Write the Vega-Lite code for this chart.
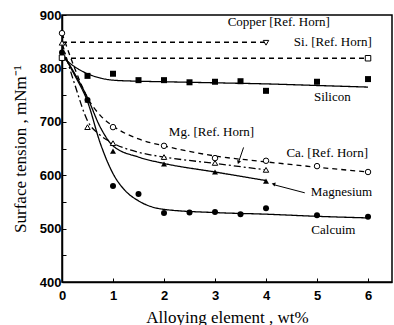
{
  "$schema": "https://vega.github.io/schema/vega-lite/v6.json",
  "width": 330,
  "height": 267,
  "autosize": "none",
  "padding": {"left": 62, "top": 15, "right": 2, "bottom": 43},
  "background": "white",
  "config": {
    "view": {"stroke": "black", "strokeWidth": 1.5},
    "text": {"font": "Liberation Serif"},
    "axis": {
      "domainColor": "black", "domainWidth": 1.5, "tickColor": "black",
      "labelFont": "Liberation Sans", "labelFontWeight": "bold", "labelFontSize": 13, "labelColor": "black",
      "titleFont": "Liberation Serif", "titleFontWeight": "normal", "titleFontSize": 17, "titleColor": "black",
      "grid": false, "tickSize": -4
    }
  },
  "resolve": {"scale": {"shape": "independent"}},
  "datasets": {
    "curves": [
      {"s": "Silicon", "x": 0, "y": 822}, {"s": "Silicon", "x": 0.25, "y": 803}, {"s": "Silicon", "x": 0.5, "y": 790}, {"s": "Silicon", "x": 0.75, "y": 782}, {"s": "Silicon", "x": 1, "y": 778}, {"s": "Silicon", "x": 1.5, "y": 776}, {"s": "Silicon", "x": 2, "y": 775}, {"s": "Silicon", "x": 3, "y": 773}, {"s": "Silicon", "x": 4, "y": 771}, {"s": "Silicon", "x": 5, "y": 768}, {"s": "Silicon", "x": 6, "y": 765},
      {"s": "Calcium", "x": 0, "y": 830}, {"s": "Calcium", "x": 0.25, "y": 787}, {"s": "Calcium", "x": 0.5, "y": 738}, {"s": "Calcium", "x": 0.75, "y": 660}, {"s": "Calcium", "x": 1, "y": 603}, {"s": "Calcium", "x": 1.25, "y": 570}, {"s": "Calcium", "x": 1.5, "y": 552}, {"s": "Calcium", "x": 2, "y": 536}, {"s": "Calcium", "x": 3, "y": 530}, {"s": "Calcium", "x": 4, "y": 527}, {"s": "Calcium", "x": 5, "y": 523}, {"s": "Calcium", "x": 6, "y": 520},
      {"s": "Magnesium", "x": 0, "y": 830}, {"s": "Magnesium", "x": 0.25, "y": 790}, {"s": "Magnesium", "x": 0.5, "y": 745}, {"s": "Magnesium", "x": 0.75, "y": 690}, {"s": "Magnesium", "x": 1, "y": 655}, {"s": "Magnesium", "x": 1.5, "y": 634}, {"s": "Magnesium", "x": 2, "y": 622}, {"s": "Magnesium", "x": 3, "y": 606}, {"s": "Magnesium", "x": 4, "y": 590},
      {"s": "MgRef", "x": 0, "y": 848}, {"s": "MgRef", "x": 0.25, "y": 770}, {"s": "MgRef", "x": 0.5, "y": 702}, {"s": "MgRef", "x": 0.75, "y": 675}, {"s": "MgRef", "x": 1, "y": 660}, {"s": "MgRef", "x": 1.5, "y": 643}, {"s": "MgRef", "x": 2, "y": 634}, {"s": "MgRef", "x": 3, "y": 622}, {"s": "MgRef", "x": 4, "y": 610},
      {"s": "CaRef", "x": 0, "y": 866}, {"s": "CaRef", "x": 0.25, "y": 800}, {"s": "CaRef", "x": 0.5, "y": 745}, {"s": "CaRef", "x": 0.75, "y": 712}, {"s": "CaRef", "x": 1, "y": 692}, {"s": "CaRef", "x": 1.5, "y": 668}, {"s": "CaRef", "x": 2, "y": 655}, {"s": "CaRef", "x": 3, "y": 636}, {"s": "CaRef", "x": 4, "y": 625}, {"s": "CaRef", "x": 5, "y": 615}, {"s": "CaRef", "x": 6, "y": 606},
      {"s": "CuRef", "x": 0, "y": 849}, {"s": "CuRef", "x": 4, "y": 849},
      {"s": "SiRef", "x": 0, "y": 819}, {"s": "SiRef", "x": 6, "y": 819}
    ],
    "points": [
      {"s": "Silicon", "x": 0.5, "y": 786}, {"s": "Silicon", "x": 1, "y": 790}, {"s": "Silicon", "x": 1.5, "y": 778}, {"s": "Silicon", "x": 2, "y": 778}, {"s": "Silicon", "x": 2.5, "y": 774}, {"s": "Silicon", "x": 3, "y": 775}, {"s": "Silicon", "x": 3.5, "y": 776}, {"s": "Silicon", "x": 4, "y": 758}, {"s": "Silicon", "x": 5, "y": 775}, {"s": "Silicon", "x": 6, "y": 780},
      {"s": "Calcium", "x": 0, "y": 830}, {"s": "Calcium", "x": 0.5, "y": 741}, {"s": "Calcium", "x": 1, "y": 580}, {"s": "Calcium", "x": 1.5, "y": 565}, {"s": "Calcium", "x": 2, "y": 529}, {"s": "Calcium", "x": 2.5, "y": 530}, {"s": "Calcium", "x": 3, "y": 531}, {"s": "Calcium", "x": 3.5, "y": 527}, {"s": "Calcium", "x": 4, "y": 538}, {"s": "Calcium", "x": 5, "y": 525}, {"s": "Calcium", "x": 6, "y": 522},
      {"s": "Magnesium", "x": 0.5, "y": 741}, {"s": "Magnesium", "x": 1, "y": 645}, {"s": "Magnesium", "x": 2, "y": 621}, {"s": "Magnesium", "x": 3, "y": 606}, {"s": "Magnesium", "x": 4, "y": 589},
      {"s": "MgRef", "x": 0, "y": 848}, {"s": "MgRef", "x": 0.5, "y": 690}, {"s": "MgRef", "x": 1, "y": 660}, {"s": "MgRef", "x": 2, "y": 634}, {"s": "MgRef", "x": 3, "y": 623}, {"s": "MgRef", "x": 4, "y": 610},
      {"s": "CaRef", "x": 0, "y": 866}, {"s": "CaRef", "x": 1, "y": 690}, {"s": "CaRef", "x": 2, "y": 655}, {"s": "CaRef", "x": 3, "y": 632}, {"s": "CaRef", "x": 4, "y": 627}, {"s": "CaRef", "x": 5, "y": 617}, {"s": "CaRef", "x": 6, "y": 606},
      {"s": "CuRef", "x": 4, "y": 848},
      {"s": "SiRef", "x": 0, "y": 820}, {"s": "SiRef", "x": 6, "y": 819}
    ],
    "labels": [
      {"t": "Copper [Ref. Horn]", "x": 4.25, "y": 886},
      {"t": "Si. [Ref. Horn]", "x": 5.31, "y": 849},
      {"t": "Silicon", "x": 5.3, "y": 746},
      {"t": "Mg. [Ref. Horn]", "x": 2.93, "y": 681},
      {"t": "Ca. [Ref. Horn]", "x": 5.2, "y": 641},
      {"t": "Magnesium", "x": 5.48, "y": 569},
      {"t": "Calcuim", "x": 5.32, "y": 497}
    ],
    "arrows": [
      {"x": 4.76, "y": 567, "x2": 4.16, "y2": 582, "a": 166},
      {"x": 3.56, "y": 652, "x2": 3.46, "y2": 624, "a": 200}
    ]
  },
  "encoding": {
    "x": {"field": "x", "type": "quantitative", "scale": {"domain": [0, 6.47], "nice": false, "zero": false},
      "axis": {"title": "Alloying element , wt%", "format": "d", "values": [0, 0.5, 1, 1.5, 2, 2.5, 3, 3.5, 4, 4.5, 5, 5.5, 6], "labelExpr": "datum.value % 1 === 0 ? datum.label : ''", "labelPadding": 11, "titlePadding": 7, "labelFlush": false}},
    "y": {"field": "y", "type": "quantitative", "scale": {"domain": [400, 900], "nice": false, "zero": false},
      "axis": {"title": "Surface tension , mNm⁻¹", "format": "d", "values": [400, 450, 500, 550, 600, 650, 700, 750, 800, 850, 900], "labelExpr": "datum.value % 100 === 0 ? datum.label : ''", "labelPadding": 5, "titlePadding": 10}}
  },
  "layer": [
    {
      "data": {"name": "curves"},
      "mark": {"type": "line", "color": "black", "strokeWidth": 1.3, "interpolate": "monotone"},
      "encoding": {
        "detail": {"field": "s"},
        "strokeDash": {"field": "s", "type": "nominal", "legend": null,
          "scale": {"domain": ["Silicon", "Calcium", "Magnesium", "MgRef", "CaRef", "CuRef", "SiRef"],
            "range": [[1, 0], [1, 0], [1, 0], [7, 3, 2, 3], [5, 4], [5, 4], [5, 4]]}}
      }
    },
    {
      "data": {"name": "points"},
      "transform": [{"filter": "indexof(['Silicon','Calcium','Magnesium'], datum.s) >= 0"}],
      "mark": {"type": "point", "filled": true, "color": "black", "opacity": 1, "size": 36},
      "encoding": {
        "shape": {"field": "s", "type": "nominal", "legend": null,
          "scale": {"domain": ["Silicon", "Calcium", "Magnesium"], "range": ["square", "circle", "triangle-up"]}}
      }
    },
    {
      "data": {"name": "points"},
      "transform": [{"filter": "indexof(['Silicon','Calcium','Magnesium'], datum.s) < 0"}],
      "mark": {"type": "point", "filled": false, "color": "black", "fill": "white", "opacity": 1, "size": 30, "strokeWidth": 1},
      "encoding": {
        "shape": {"field": "s", "type": "nominal", "legend": null,
          "scale": {"domain": ["MgRef", "CaRef", "CuRef", "SiRef"], "range": ["triangle-up", "circle", "triangle-down", "square"]}}
      }
    },
    {
      "data": {"name": "arrows"},
      "mark": {"type": "rule", "color": "black", "strokeWidth": 1},
      "encoding": {"x2": {"field": "x2"}, "y2": {"field": "y2"}}
    },
    {
      "data": {"name": "arrows"},
      "mark": {"type": "point", "shape": "triangle-up", "filled": true, "color": "black", "opacity": 1, "size": 18},
      "encoding": {"x": {"field": "x2", "type": "quantitative"}, "y": {"field": "y2", "type": "quantitative"}, "angle": {"field": "a", "type": "quantitative", "scale": null}}
    },
    {
      "data": {"name": "labels"},
      "mark": {"type": "text", "font": "Liberation Serif", "fontSize": 13, "color": "black", "baseline": "middle", "align": "center"},
      "encoding": {"text": {"field": "t"}}
    }
  ]
}
